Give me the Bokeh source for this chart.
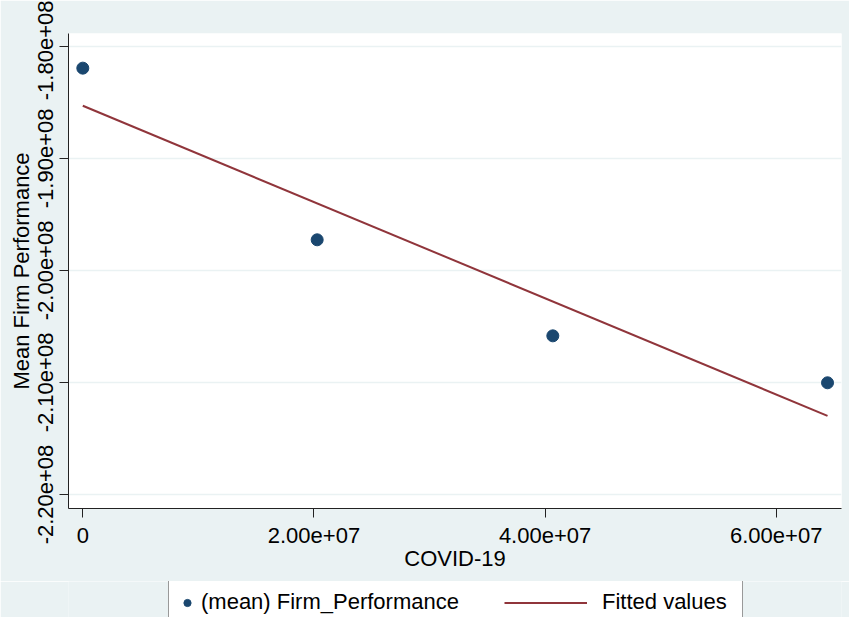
from bokeh.plotting import figure
from bokeh.layouts import column
from bokeh.models import Range1d, FixedTicker, Legend, LegendItem
from bokeh.embed import file_html
from bokeh.resources import INLINE

# ---- data ----
covid = [0, 2.028e7, 4.067e7, 6.444e7]
firm_performance = [-1.8195e8, -1.9727e8, -2.0584e8, -2.1003e8]
fit_covid = [0, 6.444e7]
fit_values = [-1.8531e8, -2.1298e8]

x_ticks = [0, 20000000, 40000000, 60000000]
x_tick_labels = ["0", "2.00e+07", "4.00e+07", "6.00e+07"]
y_ticks = [-220000000, -210000000, -200000000, -190000000, -180000000]
y_tick_labels = ["-2.20e+08", "-2.10e+08", "-2.00e+08", "-1.90e+08", "-1.80e+08"]

x_title = "COVID-19"
y_title = "Mean Firm Performance"
series_label = "(mean) Firm_Performance"
fit_label = "Fitted values"

# ---- style ----
BG = "#EAF2F3"
NAVY = "#1A476F"
MAROON = "#90353B"
FONT = "Liberation Sans"
FS = "22px"

p = figure(width=849, height=581, output_backend="svg", toolbar_location=None,
           x_range=Range1d(-1.2373e6, 6.5649e7),
           y_range=Range1d(-2.21249e8, -1.78858e8),
           min_border_left=68, min_border_right=8,
           min_border_top=33, min_border_bottom=73)

p.border_fill_color = BG
p.background_fill_color = "white"
p.outline_line_color = None

sc = p.scatter(covid, firm_performance, size=12, color=NAVY)
ln = p.line(fit_covid, fit_values, line_color=MAROON, line_width=2)

for ax in (p.xaxis[0], p.yaxis[0]):
    ax.axis_line_color = "#222222"
    ax.axis_line_width = 1
    ax.major_tick_line_color = "#222222"
    ax.major_tick_out = 9
    ax.major_tick_in = 0
    ax.minor_tick_out = 0
    ax.minor_tick_in = 0
    ax.major_label_text_font = FONT
    ax.major_label_text_font_size = FS
    ax.major_label_text_color = "black"
    ax.axis_label_text_font = FONT
    ax.axis_label_text_font_size = FS
    ax.axis_label_text_font_style = "normal"
    ax.axis_label_text_color = "black"

p.xaxis.ticker = FixedTicker(ticks=x_ticks)
p.xaxis.major_label_overrides = dict(zip(x_ticks, x_tick_labels))
p.xaxis.axis_label = x_title
p.xaxis.major_label_standoff = 10
p.xaxis.axis_label_standoff = 0

p.yaxis.ticker = FixedTicker(ticks=y_ticks)
p.yaxis.major_label_overrides = dict(zip(y_ticks, y_tick_labels))
p.yaxis.axis_label = y_title
p.yaxis.major_label_orientation = "vertical"
p.yaxis.major_label_standoff = 6
p.yaxis.axis_label_standoff = 2

p.xgrid.grid_line_color = None
p.ygrid.ticker = FixedTicker(ticks=y_ticks)
p.ygrid.grid_line_color = BG
p.ygrid.grid_line_width = 1.5

# ---- legend strip (separate panel below the plot) ----
q = figure(width=849, height=36, output_backend="svg", toolbar_location=None,
           x_range=Range1d(0, 1), y_range=Range1d(0, 1),
           x_axis_type=None, y_axis_type=None,
           min_border_left=68, min_border_right=8,
           min_border_top=0, min_border_bottom=0)
q.border_fill_color = BG
q.background_fill_color = BG
q.outline_line_color = None
q.xgrid.visible = False
q.ygrid.visible = False

# key glyphs: same data, lying outside this strip's ranges (only the legend shows them)
key_sc = q.scatter(covid, firm_performance, size=12, color=NAVY)
key_ln = q.line(fit_covid, fit_values, line_color=MAROON, line_width=2)

leg1 = Legend(items=[LegendItem(label=series_label, renderers=[key_sc])],
              location=(100, -8), orientation="horizontal",
              glyph_width=18, glyph_height=25, label_standoff=5,
              label_width=532, label_height=25, padding=9, margin=0,
              border_line_color="#333333", border_line_width=1,
              background_fill_color="white", background_fill_alpha=1,
              label_text_font=FONT, label_text_font_size=FS,
              label_text_color="black")
leg2 = Legend(items=[LegendItem(label=fit_label, renderers=[key_ln])],
              location=(436, 2), orientation="horizontal",
              glyph_width=83, glyph_height=25, label_standoff=15,
              label_height=25, padding=9, margin=0,
              border_line_color=None, background_fill_alpha=0,
              label_text_font=FONT, label_text_font_size=FS,
              label_text_color="black")
q.add_layout(leg1)
q.add_layout(leg2)

layout = column(p, q, spacing=0)
open("out.html", "w").write(file_html(layout, INLINE))
